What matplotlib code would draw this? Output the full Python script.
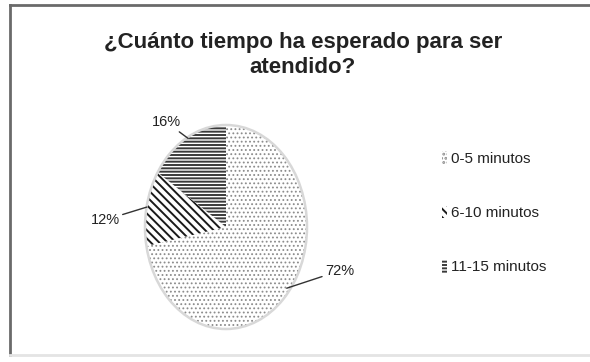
import matplotlib.pyplot as plt
from matplotlib.lines import Line2D
from matplotlib.patches import Patch

# Waiting time survey
categories = ['0-5 minutos', '6-10 minutos', '11-15 minutos']
shares = [72, 12, 16]
hatches = ['....', '\\\\\\\\', '-----']
hatch_colors = ['#8c8c8c', '#1a1a1a', '#3a3a3a']
hatch_widths = [0.8, 1.4, 1.4]
title = '¿Cuánto tiempo ha esperado para ser\natendido?'

plt.rcParams['font.family'] = ['Liberation Sans', 'DejaVu Sans']
plt.rcParams['hatch.linewidth'] = 1.4

W, H = 590, 362
fig = plt.figure(figsize=(W / 100, H / 100), dpi=100)

# axes over the whole figure, pie of radius 1 stretched into an ellipse
ax = fig.add_axes([0, 0, 1, 1])
cx, cy, rx, ry = 226, 227, 81, 102

wedges, _ = ax.pie(shares, startangle=90, counterclock=False, radius=1,
                   colors=['white'] * 3, wedgeprops=dict(linewidth=0))
for w, h, c, lw in zip(wedges, hatches, hatch_colors, hatch_widths):
    w.set_hatch(h)
    w.set_edgecolor(c)
    if hasattr(w, 'set_hatch_linewidth'):
        w.set_hatch_linewidth(lw)

ax.set_aspect('auto')
ax.set_xlim((0 - cx) / rx, (W - cx) / rx)
ax.set_ylim((cy - H) / ry, cy / ry)
ax.axis('off')

# soft outline
outline = plt.Circle((0, 0), 1.0, fill=False, edgecolor='#d8d8d8', linewidth=1.8)
ax.add_patch(outline)

# percentage labels with leader lines
lbl = dict(fontsize=10.5, color='#222222')
arrow = dict(arrowstyle='-', color='#333333', linewidth=1.0, shrinkA=0, shrinkB=0)
ax.annotate(f'{shares[2]}%', xy=(-0.47, 0.87), xytext=(-0.56, 0.96),
            ha='right', va='bottom', arrowprops=arrow, **lbl)
ax.annotate(f'{shares[1]}%', xy=(-0.975, 0.196), xytext=(-1.31, 0.07),
            ha='right', va='center', arrowprops=arrow, **lbl)
ax.annotate(f'{shares[0]}%', xy=(0.75, -0.6), xytext=(1.22, -0.43),
            ha='left', va='center', arrowprops=arrow, **lbl)

fig.text(0.513, 0.848, title, ha='center', va='center', fontsize=16,
         fontweight='bold', color='#222222', linespacing=1.3)

handles = [Patch(facecolor='white', edgecolor=c, hatch=h, linewidth=0)
           for h, c in zip(hatches, hatch_colors)]
leg = fig.legend(handles, categories, loc='center left', bbox_to_anchor=(0.725, 0.412),
                 frameon=False, fontsize=11, handlelength=0.35, handleheight=0.9,
                 handletextpad=0.3, labelspacing=2.6)
for t in leg.get_texts():
    t.set_color('#222222')

# chart frame
fig.add_artist(Line2D([10 / W, 1], [1 - 5 / H, 1 - 5 / H], transform=fig.transFigure,
                      color='#6a6a6a', linewidth=2))
fig.add_artist(Line2D([10 / W, 10 / W], [1 - 5 / H, 1 - 355 / H], transform=fig.transFigure,
                      color='#6a6a6a', linewidth=2))
fig.add_artist(Line2D([10 / W, 1], [1 - 355 / H, 1 - 355 / H], transform=fig.transFigure,
                      color='#e4e4e4', linewidth=2))

fig.savefig('out.png', dpi=100, facecolor='white')
